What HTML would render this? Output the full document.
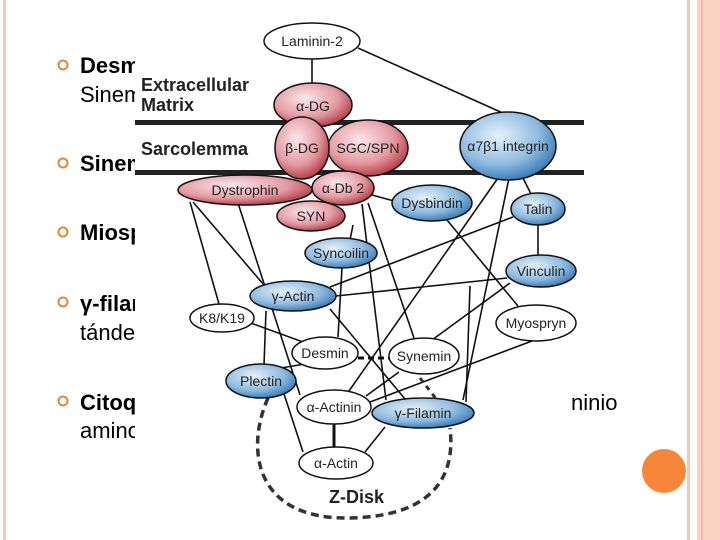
<!DOCTYPE html>
<html><head><meta charset="utf-8"><style>
body{margin:0;width:720px;height:540px;background:#fff;overflow:hidden;position:relative;font-family:"Liberation Sans",sans-serif}
</style></head><body>
<svg width="720" height="540" style="position:absolute;left:0;top:0" font-family="Liberation Sans, sans-serif">
<defs>
<radialGradient id="r" cx="0.4" cy="0.35" r="0.7"><stop offset="0" stop-color="#fbe8ea"/><stop offset="0.6" stop-color="#e49aa2"/><stop offset="1" stop-color="#b0303c"/></radialGradient>
<radialGradient id="b" cx="0.4" cy="0.35" r="0.7"><stop offset="0" stop-color="#e6f1fa"/><stop offset="0.6" stop-color="#8fbbe0"/><stop offset="1" stop-color="#2f74b0"/></radialGradient>
</defs>
<rect x="3" y="0" width="3" height="540" fill="#f6c8b6"/>
<rect x="687" y="0" width="3" height="540" fill="#f6c8b6"/>
<rect x="697" y="0" width="23" height="540" fill="#fad3c4"/>
<rect x="701" y="0" width="2" height="540" fill="#f3b9a4"/>
<ellipse cx="664" cy="471" rx="22" ry="22" fill="#f7863a"/>
<g fill="none" stroke="#e0883a" stroke-width="2">
<circle cx="63" cy="65" r="4.5"/><circle cx="63" cy="163" r="4.5"/><circle cx="63" cy="232" r="4.5"/><circle cx="63" cy="302" r="4.5"/><circle cx="63" cy="401" r="4.5"/>
</g>
<g font-size="22" fill="#000">
<text x="80" y="73" font-weight="bold">Desmina</text>
<text x="80" y="102">Sinemina</text>
<text x="80" y="171" font-weight="bold">Sinemina</text>
<text x="80" y="240" font-weight="bold">Miospryn</text>
<text x="80" y="311" font-weight="bold">γ-filamina</text>
<text x="80" y="340">tándem</text>
<text x="80" y="410" font-weight="bold">Citoqueratinas</text>
<text x="80" y="438">amino</text>
<text x="571" y="410">ninio</text>
</g>
<rect x="135" y="18" width="436" height="505" fill="#fff"/>
<rect x="135" y="120" width="449" height="5" fill="#222"/>
<rect x="135" y="170" width="449" height="5" fill="#222"/>
<g font-weight="bold" font-size="18" fill="#222">
<text x="141" y="91">Extracellular</text>
<text x="141" y="111">Matrix</text>
<text x="141" y="155">Sarcolemma</text>
<text x="329" y="503">Z-Disk</text>
</g>
<g stroke="#111" stroke-width="1.6" fill="none">
<line x1="312" y1="58" x2="312" y2="86"/>
<line x1="358" y1="48" x2="505" y2="114"/>
<line x1="190" y1="202" x2="219" y2="304"/>
<line x1="193" y1="202" x2="264" y2="285"/>
<line x1="238" y1="203" x2="300" y2="395"/>
<line x1="353" y1="225" x2="350" y2="240"/>
<line x1="372" y1="195" x2="394" y2="201"/>
<line x1="368" y1="203" x2="414" y2="338"/>
<line x1="362" y1="204" x2="386" y2="400"/>
<line x1="447" y1="220" x2="518" y2="306"/>
<line x1="498" y1="178" x2="349" y2="391"/>
<line x1="509" y1="178" x2="463" y2="400"/>
<line x1="523" y1="178" x2="531" y2="194"/>
<line x1="538" y1="225" x2="538" y2="256"/>
<line x1="513" y1="217" x2="330" y2="287"/>
<line x1="507" y1="278" x2="336" y2="296"/>
<line x1="510" y1="283" x2="432" y2="340"/>
<line x1="470" y1="286" x2="466" y2="402"/>
<line x1="532" y1="341" x2="370" y2="402"/>
<line x1="342" y1="268" x2="338" y2="337"/>
<line x1="266" y1="311" x2="264" y2="365"/>
<line x1="330" y1="309" x2="405" y2="399"/>
<line x1="248" y1="322" x2="303" y2="342"/>
<line x1="399" y1="372" x2="366" y2="396"/>
<line x1="275" y1="369" x2="305" y2="364"/>
<line x1="284" y1="394" x2="303" y2="452"/>
<line x1="385" y1="427" x2="365" y2="452"/>
</g>
<line x1="358" y1="358" x2="390" y2="358" stroke="#111" stroke-width="3" stroke-dasharray="6 4"/>
<line x1="334" y1="424" x2="334" y2="447" stroke="#111" stroke-width="3"/>
<path d="M268 398 C245 450 255 520 350 518 C440 516 455 470 450 428" fill="none" stroke="#333" stroke-width="3.5" stroke-dasharray="8 5"/>
<line x1="420" y1="378" x2="437" y2="400" stroke="#333" stroke-width="3" stroke-dasharray="5 5"/>
<g stroke="#111" stroke-width="1.5">
<ellipse cx="312" cy="41" rx="48" ry="18" fill="#fff"/>
<ellipse cx="313" cy="105" rx="39" ry="22" fill="url(#r)"/>
<ellipse cx="368" cy="148" rx="40" ry="28" fill="url(#r)"/>
<ellipse cx="302" cy="148" rx="27" ry="31" fill="url(#r)"/>
<ellipse cx="508" cy="146" rx="48" ry="34" fill="url(#b)"/>
<ellipse cx="343" cy="188" rx="31" ry="17" fill="url(#r)"/>
<ellipse cx="245" cy="190" rx="67" ry="15" fill="url(#r)"/>
<ellipse cx="311" cy="216" rx="34" ry="15" fill="url(#r)"/>
<ellipse cx="432" cy="203" rx="40" ry="18" fill="url(#b)"/>
<ellipse cx="538" cy="209" rx="27" ry="16" fill="url(#b)"/>
<ellipse cx="341" cy="253" rx="36" ry="15" fill="url(#b)"/>
<ellipse cx="541" cy="271" rx="35" ry="16" fill="url(#b)"/>
<ellipse cx="293" cy="296" rx="43" ry="15" fill="url(#b)"/>
<ellipse cx="222" cy="318" rx="32" ry="14" fill="#fff"/>
<ellipse cx="536" cy="323" rx="40" ry="18" fill="#fff"/>
<ellipse cx="325" cy="353" rx="33" ry="16" fill="#fff"/>
<ellipse cx="424" cy="356" rx="35" ry="18" fill="#fff"/>
<ellipse cx="261" cy="381" rx="35" ry="17" fill="url(#b)"/>
<ellipse cx="334" cy="407" rx="37" ry="17" fill="#fff"/>
<ellipse cx="423" cy="413" rx="51" ry="15" fill="url(#b)"/>
<ellipse cx="336" cy="463" rx="37" ry="16" fill="#fff"/>
</g>
<g font-size="14" fill="#222" text-anchor="middle">
<text x="312" y="46">Laminin-2</text>
<text x="313" y="111">α-DG</text>
<text x="302" y="153">β-DG</text>
<text x="368" y="153">SGC/SPN</text>
<text x="508" y="151">α7β1 integrin</text>
<text x="343" y="193">α-Db 2</text>
<text x="245" y="195">Dystrophin</text>
<text x="311" y="221">SYN</text>
<text x="432" y="208">Dysbindin</text>
<text x="538" y="214">Talin</text>
<text x="341" y="258">Syncoilin</text>
<text x="541" y="276">Vinculin</text>
<text x="293" y="301">γ-Actin</text>
<text x="222" y="323">K8/K19</text>
<text x="536" y="328">Myospryn</text>
<text x="325" y="358">Desmin</text>
<text x="424" y="361">Synemin</text>
<text x="261" y="386">Plectin</text>
<text x="334" y="412">α-Actinin</text>
<text x="423" y="418">γ-Filamin</text>
<text x="336" y="468">α-Actin</text>
</g>
</svg>
</body></html>
